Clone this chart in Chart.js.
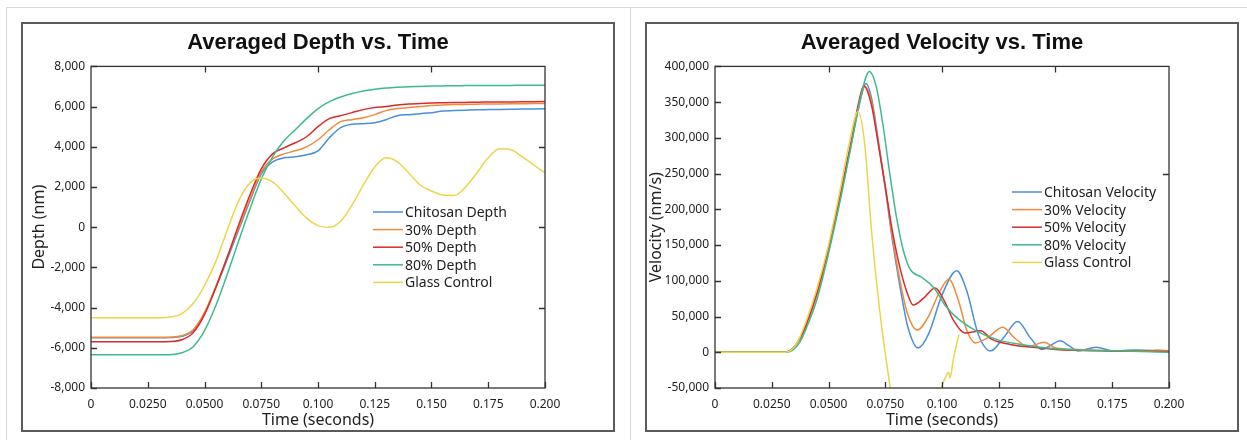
<!DOCTYPE html>
<html>
<head>
<meta charset="utf-8">
<script src="https://cdn.jsdelivr.net/npm/chart.js@4.4.1/dist/chart.umd.min.js"></script>
<style>
  body { margin: 0; background: #fff; width: 1247px; height: 440px; overflow: hidden; position: relative; }
  .rule { position: absolute; background: #d9d9d9; }
  .frame { position: absolute; border: 2px solid #5a5a5a; width: 590px; height: 406px; }
  .frame canvas { display: block; }
</style>
</head>
<body>
<div class="rule" style="left:6px;top:7px;width:1241px;height:1px"></div>
<div class="rule" style="left:6px;top:7px;width:1px;height:433px"></div>
<div class="rule" style="left:630px;top:7px;width:1px;height:433px"></div>
<div class="frame" style="left:21px;top:22px"><canvas id="depthChart" width="590" height="406"></canvas></div>
<div class="frame" style="left:645px;top:22px"><canvas id="velocityChart" width="590" height="406"></canvas></div>
<script>
// ---- data ----
var seriesNames = ['Chitosan', '30%', '50%', '80%'];
var seriesColors = ['#4a8fdb', '#f08a3c', '#d92b2b', '#3dbb8c', '#ecd54a'];

var xTickLabels = ['0', '0.0250', '0.0500', '0.0750', '0.100', '0.125', '0.150', '0.175', '0.200'];
var xTopTicks = [0.05, 0.1, 0.15];
var depthTickLabels = ['-8,000', '-6,000', '-4,000', '-2,000', '0', '2,000', '4,000', '6,000', '8,000'];
var depthRightTicks = [-4000, 0, 4000];
var velTickLabels = ['-50,000', '0', '50,000', '100,000', '150,000', '200,000', '250,000', '300,000', '350,000', '400,000'];
var velRightTicks = [100000, 250000];

var depthTime = [0, 0.005, 0.01, 0.015, 0.02, 0.025, 0.03, 0.035, 0.04, 0.045, 0.05, 0.055, 0.06, 0.065, 0.07, 0.075, 0.08,
  0.085, 0.09, 0.095, 0.1, 0.105, 0.11, 0.115, 0.12, 0.125, 0.13, 0.135, 0.14, 0.145, 0.15, 0.155, 0.16, 0.165, 0.17,
  0.175, 0.18, 0.185, 0.19, 0.195, 0.2];
var chitosanDepth = [-5500, -5500, -5500, -5500, -5500, -5500, -5500, -5490, -5430, -5150, -4300, -3000, -1600, -150, 1300, 2650, 3250,
  3450, 3500, 3600, 3800, 4450, 4950, 5120, 5150, 5200, 5350, 5550, 5600, 5650, 5700, 5780, 5800, 5820, 5840,
  5850, 5860, 5870, 5880, 5885, 5890];
var depth30 = [-5480, -5480, -5480, -5480, -5480, -5480, -5480, -5470, -5400, -5100, -4250, -2950, -1500, -50, 1400, 2750, 3400,
  3650, 3800, 4000, 4350, 4850, 5250, 5350, 5450, 5600, 5800, 5900, 5950, 6000, 6050, 6080, 6100, 6110, 6120,
  6130, 6135, 6140, 6145, 6150, 6150];
var depth50 = [-5700, -5700, -5700, -5700, -5700, -5700, -5700, -5690, -5600, -5250, -4350, -3000, -1500, 100, 1600, 2900, 3650,
  3950, 4200, 4500, 5000, 5400, 5550, 5700, 5850, 5950, 6000, 6080, 6130, 6160, 6180, 6190, 6200, 6210, 6220,
  6225, 6230, 6235, 6240, 6245, 6250];
var depth80 = [-6350, -6350, -6350, -6350, -6350, -6350, -6350, -6340, -6250, -5950, -5150, -3900, -2350, -700, 900, 2400, 3500,
  4300, 4850, 5400, 5900, 6250, 6480, 6650, 6780, 6860, 6920, 6960, 6990, 7005, 7020, 7030, 7040, 7045, 7050,
  7050, 7055, 7055, 7060, 7060, 7060];
var glassDepth = [-4500, -4500, -4500, -4500, -4500, -4500, -4500, -4470, -4300, -3800, -2900, -1700, -150, 1300, 2200, 2450, 2250,
  1700, 1050, 450, 80, 0, 300, 1100, 2100, 3000, 3450, 3250, 2700, 2100, 1800, 1600, 1580, 2000, 2700,
  3450, 3900, 3850, 3500, 3100, 2700];

var chitosanVelT = [0, 0.03, 0.0325, 0.035, 0.0375, 0.04, 0.045, 0.05, 0.055, 0.06, 0.0635, 0.0665, 0.069, 0.072, 0.075, 0.078,
  0.0815, 0.085, 0.0895, 0.094, 0.1, 0.1065, 0.111, 0.116, 0.1215, 0.127, 0.1333, 0.139, 0.144, 0.148, 0.152, 0.156, 0.16,
  0.168, 0.175, 0.185, 0.2];
var chitosanVel = [0, 0, 1500, 8000, 20000, 37000, 83000, 145000, 215000, 292000, 345000, 376000, 355000, 295000, 230000, 160000,
  92000, 35000, 6000, 25000, 80000, 114000, 85000, 25000, 2000, 20000, 43000, 20000, 4000, 10000, 16000, 9000, 2000,
  7000, 2000, 3000, 1000];
var vel30T = [0, 0.03, 0.0325, 0.035, 0.0375, 0.04, 0.045, 0.05, 0.055, 0.06, 0.063, 0.066, 0.069, 0.072, 0.075, 0.078,
  0.0815, 0.085, 0.089, 0.094, 0.099, 0.103, 0.107, 0.111, 0.1146, 0.12, 0.1267, 0.132, 0.138, 0.145, 0.15, 0.16,
  0.175, 0.19, 0.195, 0.2];
var vel30 = [0, 0, 1200, 7000, 19000, 36000, 82000, 143000, 213000, 290000, 340000, 372000, 350000, 292000, 232000, 165000,
  100000, 52000, 31000, 50000, 85000, 102000, 75000, 30000, 13000, 20000, 35000, 20000, 8000, 14000, 6000, 4000,
  2000, 2000, 3000, 2000];
var vel50T = [0, 0.03, 0.0325, 0.035, 0.0375, 0.04, 0.045, 0.05, 0.055, 0.06, 0.063, 0.0655, 0.069, 0.072, 0.075, 0.078,
  0.0815, 0.085, 0.0873, 0.092, 0.097, 0.101, 0.105, 0.11, 0.117, 0.122, 0.13, 0.14, 0.15, 0.17, 0.2];
var vel50 = [0, 0, 1300, 7500, 20000, 37000, 84000, 146000, 218000, 295000, 345000, 373000, 345000, 290000, 232000, 172000,
  118000, 80000, 66000, 76000, 90000, 72000, 45000, 27000, 30000, 18000, 11000, 7000, 4000, 2000, 1000];
var vel80T = [0, 0.031, 0.033, 0.035, 0.0375, 0.04, 0.045, 0.05, 0.055, 0.06, 0.064, 0.068, 0.071, 0.074, 0.077, 0.08,
  0.083, 0.086, 0.091, 0.0965, 0.1015, 0.107, 0.115, 0.125, 0.135, 0.15, 0.175, 0.2];
var vel80 = [0, 0, 1000, 5000, 15000, 32000, 75000, 138000, 210000, 290000, 355000, 393000, 372000, 318000, 250000, 188000,
  142000, 116000, 105000, 90000, 65000, 47000, 30000, 17000, 11000, 5000, 2000, 0];
var glassVelT = [0, 0.031, 0.0335, 0.036, 0.04, 0.045, 0.05, 0.055, 0.059, 0.063, 0.066, 0.069, 0.0725, 0.0775, 0.085,
  0.093, 0.0995, 0.102, 0.103, 0.1035, 0.105, 0.1065, 0.1075];
var glassVel = [0, 0, 3000, 12000, 42000, 90000, 150000, 225000, 290000, 337000, 290000, 168000, 60000, -55000, -180000,
  -150000, -52000, -32000, -28000, -36000, -10000, 12000, 25000];

// ---- helpers ----
Chart.defaults.font.family = "'Noto Sans', sans-serif";
Chart.defaults.color = '#222';

function toPoints(ts, vs) {
  return ts.map(function(t, i) { return { x: t, y: vs[i] }; });
}

// box round the plot, inward ticks on all four sides and the legend inside the plot
var boxPlugin = {
  id: 'boxTicks',
  afterDatasetsDraw: function(chart, args, opts) {
    var ctx = chart.ctx, a = chart.chartArea, x = chart.scales.x, y = chart.scales.y;
    ctx.save();
    ctx.strokeStyle = '#333';
    ctx.lineWidth = 1.3;
    ctx.strokeRect(a.left, a.top, a.right - a.left, a.bottom - a.top);
    ctx.beginPath();
    x.ticks.forEach(function(t) {
      var px = Math.round(x.getPixelForValue(t.value)) + 0.5;
      ctx.moveTo(px, a.bottom); ctx.lineTo(px, a.bottom - 6);
    });
    opts.topTicks.forEach(function(v) {
      var px = Math.round(x.getPixelForValue(v)) + 0.5;
      ctx.moveTo(px, a.top); ctx.lineTo(px, a.top + 6);
    });
    y.ticks.forEach(function(t) {
      var py = Math.round(y.getPixelForValue(t.value)) + 0.5;
      ctx.moveTo(a.left, py); ctx.lineTo(a.left + 6, py);
    });
    opts.rightTicks.forEach(function(v) {
      var py = Math.round(y.getPixelForValue(v)) + 0.5;
      ctx.moveTo(a.right, py); ctx.lineTo(a.right - 6, py);
    });
    ctx.stroke();

    // legend
    ctx.font = "14px 'Noto Sans', sans-serif";
    ctx.textBaseline = 'middle';
    ctx.fillStyle = '#222';
    chart.data.datasets.forEach(function(ds, i) {
      var ly = opts.legendY + i * opts.legendRow;
      ctx.strokeStyle = ds.borderColor;
      ctx.lineWidth = 1.5;
      ctx.beginPath();
      ctx.moveTo(opts.legendX, ly); ctx.lineTo(opts.legendX + 30, ly);
      ctx.stroke();
      ctx.fillText(ds.label, opts.legendX + 32, ly + 1);
    });
    ctx.restore();
  }
};

function makeChart(id, title, yTitle, yTitlePad, datasets, yMin, yMax, yStep, yLabels, rightTicks, legendX, legendY) {
  datasets.forEach(function(ds, i) {
    ds.borderColor = seriesColors[i];
    ds.backgroundColor = seriesColors[i];
    ds.borderWidth = 1.5;
    ds.pointRadius = 0;
    ds.fill = false;
    ds.cubicInterpolationMode = 'monotone';
    ds.order = datasets.length - i;   // later series drawn on top
  });
  return new Chart(document.getElementById(id), {
    type: 'line',
    data: { datasets: datasets },
    plugins: [boxPlugin],
    options: {
      responsive: false,
      animation: false,
      devicePixelRatio: 1,
      layout: { padding: 0 },
      plugins: {
        legend: { display: false },
        tooltip: { enabled: false },
        title: {
          display: true,
          text: title,
          color: '#111',
          font: { family: "'Liberation Sans', Arial, sans-serif", size: 22, weight: 'bold' },
          padding: { top: 6, bottom: 10 }
        },
        boxTicks: {
          topTicks: xTopTicks,
          rightTicks: rightTicks,
          legendX: legendX,
          legendY: legendY,
          legendRow: 17.6
        }
      },
      scales: {
        x: {
          type: 'linear',
          min: 0,
          max: 0.2,
          grid: { display: false, drawTicks: false },
          border: { display: false },
          ticks: {
            stepSize: 0.025,
            autoSkip: false,
            maxRotation: 0,
            padding: 9,
            font: { size: 12 },
            callback: function(v, i) { return xTickLabels[i]; }
          },
          title: { display: true, text: 'Time (seconds)', font: { size: 16 }, padding: { top: 0, bottom: 0 } },
          afterFit: function(s) { s.height = 42; }
        },
        y: {
          min: yMin,
          max: yMax,
          grid: { display: false, drawTicks: false },
          border: { display: false },
          ticks: {
            stepSize: yStep,
            autoSkip: false,
            padding: 6,
            font: { size: 12 },
            callback: function(v, i) { return yLabels[i]; }
          },
          title: { display: true, text: yTitle, font: { size: 16 }, padding: { top: yTitlePad, bottom: 0 } },
          afterFit: function(s) { s.width = 68; }
        },
        // empty right-hand axis: keeps the plot centred under the title
        yRight: {
          position: 'right',
          min: yMin,
          max: yMax,
          grid: { display: false, drawTicks: false },
          border: { display: false },
          ticks: { display: false },
          afterFit: function(s) { s.width = 68; }
        }
      }
    }
  });
}

makeChart('depthChart', 'Averaged Depth vs. Time', 'Depth (nm)', 7, [
  { label: seriesNames[0] + ' Depth', data: toPoints(depthTime, chitosanDepth) },
  { label: seriesNames[1] + ' Depth', data: toPoints(depthTime, depth30) },
  { label: seriesNames[2] + ' Depth', data: toPoints(depthTime, depth50) },
  { label: seriesNames[3] + ' Depth', data: toPoints(depthTime, depth80) },
  { label: 'Glass Control', data: toPoints(depthTime, glassDepth) }
], -8000, 8000, 2000, depthTickLabels, depthRightTicks, 350, 188);

makeChart('velocityChart', 'Averaged Velocity vs. Time', 'Velocity (nm/s)', 0, [
  { label: seriesNames[0] + ' Velocity', data: toPoints(chitosanVelT, chitosanVel) },
  { label: seriesNames[1] + ' Velocity', data: toPoints(vel30T, vel30) },
  { label: seriesNames[2] + ' Velocity', data: toPoints(vel50T, vel50) },
  { label: seriesNames[3] + ' Velocity', data: toPoints(vel80T, vel80) },
  { label: 'Glass Control', data: toPoints(glassVelT, glassVel) }
], -50000, 400000, 50000, velTickLabels, velRightTicks, 365, 168);
</script>
</body>
</html>
